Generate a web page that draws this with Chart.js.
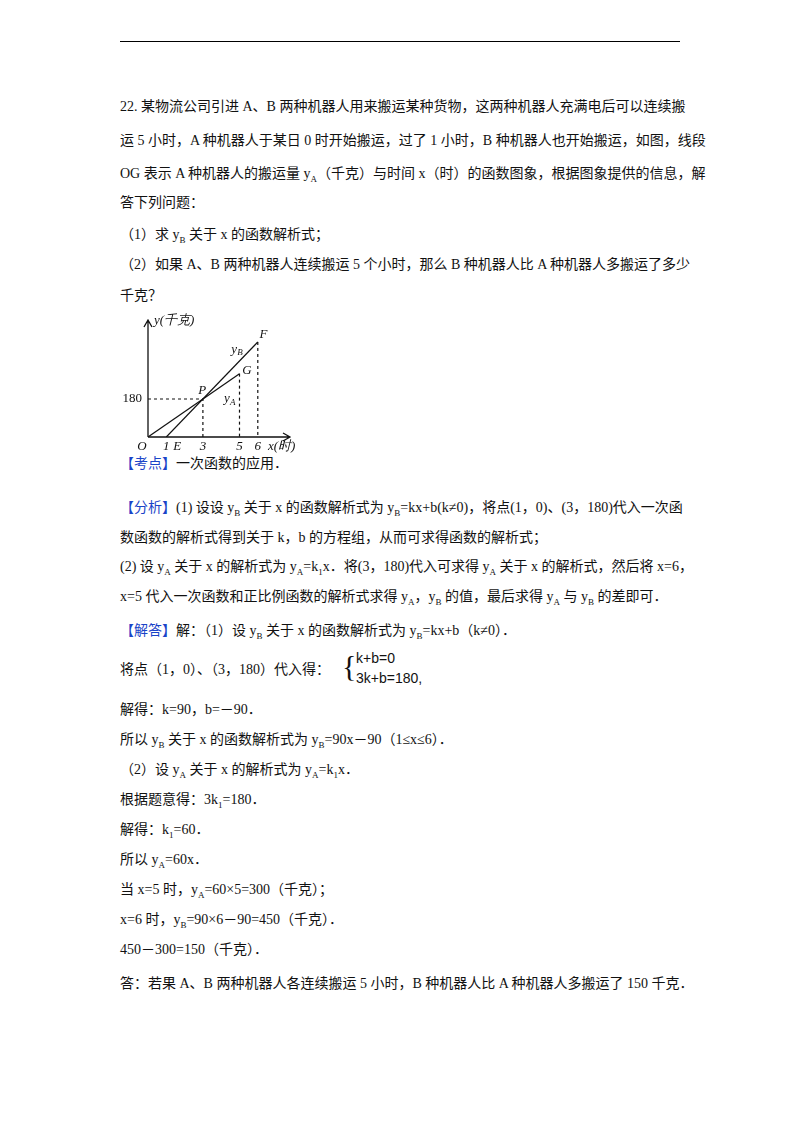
<!DOCTYPE html>
<html><head><meta charset="utf-8">
<script src="https://cdn.jsdelivr.net/npm/chart.js@4"></script>
<style>
body{margin:0;width:800px;height:1132px;background:#fff;font-family:"Liberation Serif","Noto Sans CJK SC",serif;font-size:14px;color:#111;position:relative}
.l{position:absolute;left:120px;white-space:nowrap;line-height:20px}
.b{color:#1a44c8}
sub{font-size:9px}
#hr{position:absolute;left:120px;top:41px;width:560px;border-top:1.5px solid #000}
#wrap{position:absolute;left:120px;top:308px;width:200px;height:145px}
</style></head><body>
<div id="hr"></div>
<div class="l" style="top:97px">22. 某物流公司引进 A、B 两种机器人用来搬运某种货物，这两种机器人充满电后可以连续搬</div>
<div class="l" style="top:131px">运 5 小时，A 种机器人于某日 0 时开始搬运，过了 1 小时，B 种机器人也开始搬运，如图，线段</div>
<div class="l" style="top:164px">OG 表示 A 种机器人的搬运量 y<sub>A</sub>（千克）与时间 x（时）的函数图象，根据图象提供的信息，解</div>
<div class="l" style="top:193px">答下列问题：</div>
<div class="l" style="top:225px">（1）求 y<sub>B</sub> 关于 x 的函数解析式；</div>
<div class="l" style="top:255px">（2）如果 A、B 两种机器人连续搬运 5 个小时，那么 B 种机器人比 A 种机器人多搬运了多少</div>
<div class="l" style="top:286px">千克？</div>
<div id="wrap"><canvas id="c"></canvas></div>
<div class="l" style="top:454px"><span class="b">【考点】</span>一次函数的应用．</div>
<div class="l" style="top:498px"><span class="b">【分析】</span>(1) 设设 y<sub>B</sub> 关于 x 的函数解析式为 y<sub>B</sub>=kx+b(k≠0)，将点(1，0)、(3，180)代入一次函</div>
<div class="l" style="top:528px">数函数的解析式得到关于 k，b 的方程组，从而可求得函数的解析式；</div>
<div class="l" style="top:557px">(2) 设 y<sub>A</sub> 关于 x 的解析式为 y<sub>A</sub>=k<sub>1</sub>x．将(3，180)代入可求得 y<sub>A</sub> 关于 x 的解析式，然后将 x=6，</div>
<div class="l" style="top:587px">x=5 代入一次函数和正比例函数的解析式求得 y<sub>A</sub>，y<sub>B</sub> 的值，最后求得 y<sub>A</sub> 与 y<sub>B</sub> 的差即可．</div>
<div class="l" style="top:621px"><span class="b">【解答】</span>解：（1）设 y<sub>B</sub> 关于 x 的函数解析式为 y<sub>B</sub>=kx+b（k≠0）．</div>
<div class="l" style="top:660px">将点（1，0）、（3，180）代入得：</div>
<div style="position:absolute;left:342px;top:646px;font-size:30px;line-height:40px">{</div>
<div style="position:absolute;left:356px;top:648px;font-family:'Liberation Sans';font-size:14px;line-height:20px">k+b=0<br>3k+b=180,</div>
<div class="l" style="top:700px">解得：k=90，b=－90．</div>
<div class="l" style="top:730px">所以 y<sub>B</sub> 关于 x 的函数解析式为 y<sub>B</sub>=90x－90（1≤x≤6）．</div>
<div class="l" style="top:760px">（2）设 y<sub>A</sub> 关于 x 的解析式为 y<sub>A</sub>=k<sub>1</sub>x．</div>
<div class="l" style="top:790px">根据题意得：3k<sub>1</sub>=180．</div>
<div class="l" style="top:820px">解得：k<sub>1</sub>=60．</div>
<div class="l" style="top:850px">所以 y<sub>A</sub>=60x．</div>
<div class="l" style="top:880px">当 x=5 时，y<sub>A</sub>=60×5=300（千克）；</div>
<div class="l" style="top:910px">x=6 时，y<sub>B</sub>=90×6－90=450（千克）．</div>
<div class="l" style="top:940px">450－300=150（千克）．</div>
<div class="l" style="top:974px">答：若果 A、B 两种机器人各连续搬运 5 小时，B 种机器人比 A 种机器人多搬运了 150 千克．</div>
<script>
// data
var lineA = [{x:0,y:0},{x:5,y:300}];
var lineB = [{x:1,y:0},{x:6,y:450}];
var guideP = [{x:0,y:180},{x:3,y:180},{x:3,y:0}];
var guideG = [{x:5,y:300},{x:5,y:0}];
var guideF = [{x:6,y:450},{x:6,y:0}];
var tickX = [{v:0,t:'O',dx:-6},{v:1,t:'1',dx:0},{v:3,t:'3',dx:0},{v:5,t:'5',dx:0},{v:6,t:'6',dx:0}];

function ds(d,dash){return {data:d,borderColor:'#111',borderWidth:1.2,borderDash:dash,pointRadius:0,fill:false,tension:0};}

var deco = {
  id:'deco',
  afterDraw:function(ch){
    var c=ch.ctx,x=ch.scales.x,y=ch.scales.y;
    var ox=x.getPixelForValue(0),oy=y.getPixelForValue(0);
    c.save();c.strokeStyle='#111';c.fillStyle='#111';c.lineWidth=1.3;
    c.beginPath();c.moveTo(ox,oy);c.lineTo(ch.chartArea.right,oy);
    c.moveTo(ch.chartArea.right-7,oy-4);c.lineTo(ch.chartArea.right,oy);c.lineTo(ch.chartArea.right-7,oy+4);
    c.moveTo(ox,oy);c.lineTo(ox,ch.chartArea.top);
    c.moveTo(ox-4,ch.chartArea.top+7);c.lineTo(ox,ch.chartArea.top);c.lineTo(ox+4,ch.chartArea.top+7);
    c.stroke();
    c.font='italic 13px "Liberation Serif"';c.textAlign='center';c.textBaseline='top';
    tickX.forEach(function(t){c.fillText(t.t,x.getPixelForValue(t.v)+t.dx,oy+3);});
    c.fillText('E',x.getPixelForValue(1)+11,oy+3);
    c.textAlign='left';
    c.fillText('x(时)',ch.chartArea.right-22,oy+3);
    c.fillText('y(千克)',ox+6,ch.chartArea.top-6);
    c.font='13px "Liberation Serif"';c.textAlign='right';c.textBaseline='middle';
    c.fillText('180',ox-6,y.getPixelForValue(180));
    c.font='italic 13px "Liberation Serif"';c.textAlign='left';
    c.fillText('P',x.getPixelForValue(2.75),y.getPixelForValue(220));
    c.fillText('G',x.getPixelForValue(5.15),y.getPixelForValue(315));
    c.fillText('F',x.getPixelForValue(6.1),y.getPixelForValue(485));
    c.fillText('y',x.getPixelForValue(4.15),y.getPixelForValue(180));
    c.fillText('y',x.getPixelForValue(4.55),y.getPixelForValue(415));
    c.font='italic 9px "Liberation Serif"';
    c.fillText('A',x.getPixelForValue(4.15)+6,y.getPixelForValue(165));
    c.fillText('B',x.getPixelForValue(4.55)+6,y.getPixelForValue(400));
    c.restore();
  }
};

new Chart(document.getElementById('c'),{
  type:'line',
  data:{datasets:[ds(lineA,[]),ds(lineB,[]),ds(guideP,[3,3]),ds(guideG,[3,3]),ds(guideF,[3,3])]},
  options:{
    responsive:true,maintainAspectRatio:false,animation:false,
    layout:{padding:{left:28,right:30,top:12,bottom:16}},
    plugins:{legend:{display:false},tooltip:{enabled:false}},
    scales:{
      x:{type:'linear',min:0,max:7.76,display:false},
      y:{type:'linear',min:0,max:554,display:false}
    }
  },
  plugins:[deco]
});
</script>
</body></html>
